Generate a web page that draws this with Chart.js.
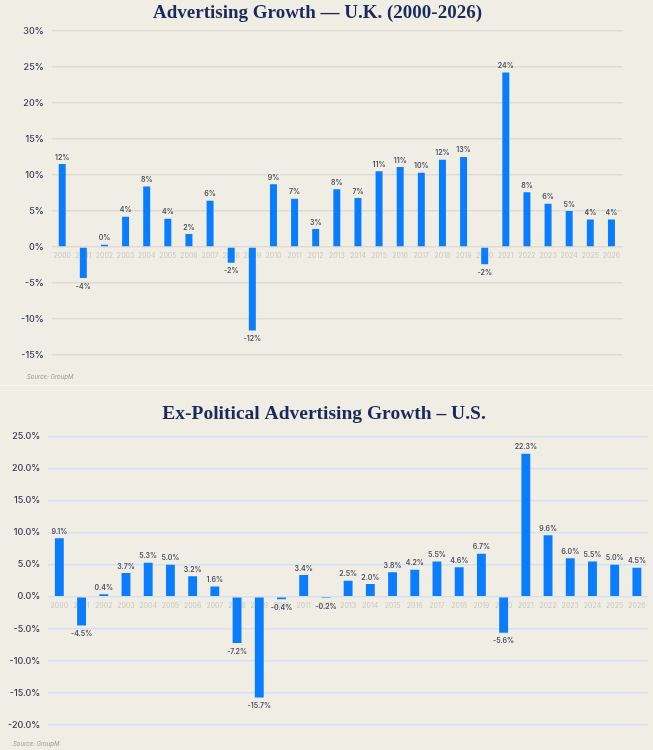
<!DOCTYPE html>
<html>
<head>
<meta charset="utf-8">
<script src="https://cdn.jsdelivr.net/npm/chart.js@4.4.1/dist/chart.umd.min.js"></script>
<style>
  body { margin: 0; background: #f0eee4; width: 653px; height: 750px; overflow: hidden; font-family: Inter, "Noto Sans", sans-serif; }
  .box { position: absolute; left: 0; width: 653px; }
  #boxUK { top: 0; height: 385px; border-bottom: 1px solid #f7f6f0; }
  #boxUS { top: 386px; height: 364px; }
  .src { position: absolute; font-size: 6px; font-style: italic; color: #9a9890; }
</style>
</head>
<body>
<div class="box" id="boxUK"><canvas id="chartUK" width="653" height="385"></canvas>
  <div class="src" style="left:27px; top:373px;">Source: GroupM</div></div>
<div class="box" id="boxUS"><canvas id="chartUS" width="653" height="364"></canvas>
  <div class="src" style="left:13px; top:354px;">Source: GroupM</div></div>
<script>
var anos = ['2000','2001','2002','2003','2004','2005','2006','2007','2008','2009','2010','2011','2012',
  '2013','2014','2015','2016','2017','2018','2019','2020','2021','2022','2023','2024','2025','2026'];

// crescimento UK (%)
var crescimentoUK = [11.5, -4.3, 0.3, 4.2, 8.4, 3.9, 1.8, 6.4, -2.2, -11.6, 8.7, 6.7, 2.5,
  8.0, 6.8, 10.5, 11.1, 10.3, 12.1, 12.5, -2.4, 24.2, 7.6, 6.0, 5.0, 3.8, 3.8];

// crescimento US sem politica (%)
var crescimentoUS = [9.1, -4.5, 0.4, 3.7, 5.3, 5.0, 3.2, 1.6, -7.2, -15.7, -0.4, 3.4, -0.2,
  2.5, 2.0, 3.8, 4.2, 5.5, 4.6, 6.7, -5.6, 22.3, 9.6, 6.0, 5.5, 5.0, 4.5];

var ticksUK = [-15, -10, -5, 0, 5, 10, 15, 20, 25, 30];
var ticksUS = [-20, -15, -10, -5, 0, 5, 10, 15, 20, 25];

var azul = '#0a7dff';

var rotulosBarras = {
  id: 'rotulosBarras',
  afterDatasetsDraw: function (chart, args, opts) {
    var ctx = chart.ctx;
    var meta = chart.getDatasetMeta(0);
    var dados = chart.data.datasets[0].data;
    ctx.save();
    ctx.font = '600 7px Inter, "Noto Sans", sans-serif';
    ctx.fillStyle = '#4b4e5e';
    ctx.textAlign = 'center';
    meta.data.forEach(function (bar, i) {
      var v = dados[i];
      var txt = opts.fmt(v);
      if (v >= 0) {
        ctx.textBaseline = 'bottom';
        ctx.fillText(txt, bar.x, bar.y - 3);
      } else {
        ctx.textBaseline = 'top';
        ctx.fillText(txt, bar.x, bar.y + 5);
      }
    });
    ctx.restore();
  }
};

function criarGrafico(id, titulo, dados, ticks, fmtTick, fmtRotulo, corGrade, barPct, padding, titlePad, titleSize) {
  var ctx = document.getElementById(id);
  return new Chart(ctx, {
    type: 'bar',
    data: {
      labels: anos,
      datasets: [{
        data: dados,
        backgroundColor: azul,
        borderWidth: 0,
        barPercentage: barPct,
        categoryPercentage: 1
      }]
    },
    plugins: [rotulosBarras],
    options: {
      responsive: false,
      animation: false,
      layout: { padding: padding },
      plugins: {
        legend: { display: false },
        tooltip: { enabled: false },
        title: {
          display: true,
          text: titulo,
          color: '#1b2a5c',
          font: { family: '"Liberation Serif", "DejaVu Serif", serif', size: titleSize, weight: 'bold' },
          padding: titlePad
        },
        rotulosBarras: { fmt: fmtRotulo }
      },
      scales: {
        x: {
          position: { y: 0 },
          grid: { display: false, drawTicks: false },
          border: { display: false },
          ticks: {
            color: '#c9c7c0',
            font: { family: 'Inter, "Noto Sans", sans-serif', size: 7 },
            padding: 5,
            maxRotation: 0,
            autoSkip: false
          }
        },
        y: {
          min: ticks[0],
          max: ticks[ticks.length - 1],
          afterBuildTicks: function (axis) {
            axis.ticks = ticks.map(function (t) { return { value: t }; });
          },
          grid: { color: corGrade, lineWidth: 1.5, drawTicks: false },
          border: { display: false },
          ticks: {
            color: '#353a57',
            font: { family: 'Inter, "Noto Sans", sans-serif', size: 9, weight: '500' },
            padding: 8,
            callback: fmtTick
          }
        }
      }
    }
  });
}

criarGrafico('chartUK', 'Advertising Growth \u2014 U.K. (2000-2026)', crescimentoUK, ticksUK,
  function (v) { return v + '%'; },
  function (v) { return v.toFixed(0) + '%'; },
  '#dddbd4', 0.33, { left: 13, right: 31, top: 0, bottom: 30 }, { top: 2, bottom: 6 }, 19);

criarGrafico('chartUS', 'Ex-Political Advertising Growth \u2013 U.S.', crescimentoUS, ticksUS,
  function (v) { return v.toFixed(1) + '%'; },
  function (v) { return v.toFixed(1) + '%'; },
  '#d3e1f3', 0.4, { left: 0, right: 5, top: 0, bottom: 25 }, { top: 16, bottom: 11 }, 19.5);
</script>
</body>
</html>
